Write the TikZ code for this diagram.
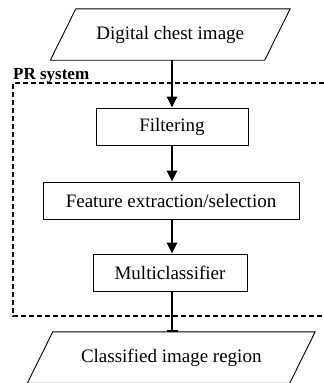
\documentclass[tikz,border=0pt]{standalone}
\usepackage{fontspec}
\setmainfont{Liberation Serif}
\usetikzlibrary{arrows.meta,calc}
\begin{document}
\begin{tikzpicture}[x=1pt,y=-1pt,
  txt/.style={font=\fontsize{19}{22}\selectfont},
  procbox/.style={draw,line width=0.9pt,txt,inner sep=0pt,minimum height=37pt},
  iobox/.style={txt,inner sep=0pt,minimum width=214pt,minimum height=51pt},
  para/.style={line width=0.9pt},
  flow/.style={line width=2.4pt,-{Triangle[length=11pt,width=10pt]}},
  flowbar/.style={line width=2.4pt,-{Bar[width=11pt,line width=1.6pt]}},
  sysframe/.style={dashed,line width=1.6pt,dash pattern=on 5pt off 3pt}]
\clip (0,0) rectangle (324,383);
\fill[white] (0,0) rectangle (324,383);
% input / output
\node[iobox] (in) at (170.25,34.5) {Digital chest image};
\draw[para] ($(in.south west)+(-12.75,0)$) -- ($(in.south east)+(-12.75,0)$)
  -- ($(in.north east)+(12.75,0)$) -- ($(in.north west)+(12.75,0)$) -- cycle;
\node[iobox,minimum width=262pt] (out) at (171.25,357.5) {Classified image region};
\draw[para] ($(out.south west)+(-12.75,0)$) -- ($(out.south east)+(-12.75,0)$)
  -- ($(out.north east)+(12.75,0)$) -- ($(out.north west)+(12.75,0)$) -- cycle;
% system frame
\draw[sysframe] (340,83) -| (13,316) -- (340,316);
\node[anchor=base west,inner sep=0pt,font=\fontsize{17}{20}\selectfont\bfseries] (sys) at (13,79) {PR system};
% process boxes
\node[procbox,minimum width=152pt] (filt) at (172,126.5) {Filtering};
\node[procbox,minimum width=256pt] (feat) at (171,200.5) {Feature extraction/selection};
\node[procbox,minimum width=154pt] (multi) at (170,272.5) {Multiclassifier};
% connectors
\draw[flow] (in.south -| filt.north) -- (filt.north);
\draw[flow] (filt.south) -- (filt.south |- feat.north);
\draw[flow] (filt.south |- feat.south) -- (filt.south |- multi.north);
\draw[flowbar] (filt.south |- multi.south) -- (filt.south |- out.north);
\end{tikzpicture}
\end{document}
